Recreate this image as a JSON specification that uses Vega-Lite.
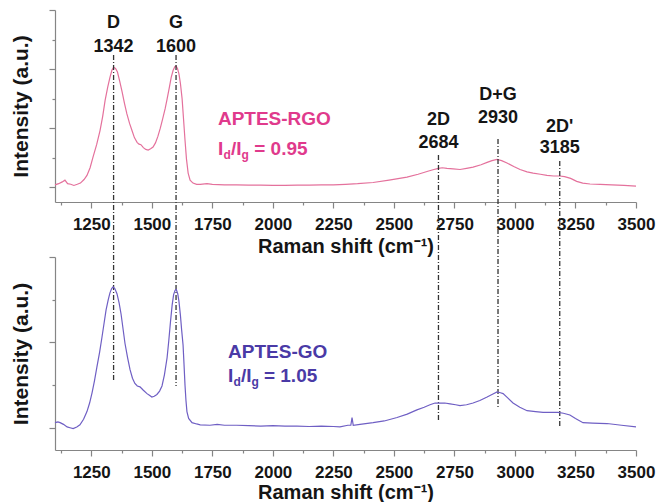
{
  "$schema": "https://vega.github.io/schema/vega-lite/v6.json",
  "width": 581,
  "height": 440,
  "autosize": "none",
  "padding": {"left": 55, "top": 10, "right": 20, "bottom": 52},
  "background": "white",
  "config": {
    "view": {"stroke": null},
    "font": "Liberation Sans",
    "axis": {
      "domainColor": "#858585", "tickColor": "#858585", "domainWidth": 1.2, "tickWidth": 1.2,
      "grid": false, "labelFont": "Liberation Sans", "labelFontWeight": "bold", "labelFontSize": 17,
      "labelColor": "#151515", "titleFont": "Liberation Sans", "titleFontWeight": "bold", "titleColor": "#151515"
    }
  },
  "datasets": {
    "rgo": [
      {"w":1100,"v":0.04},{"w":1115,"v":0.06},{"w":1130,"v":0.09},{"w":1141,"v":0.12},{"w":1152,"v":0.06},{"w":1165,"v":0.05},{"w":1178,"v":0.03},{"w":1192,"v":0.05},{"w":1205,"v":0.07},{"w":1220,"v":0.13},{"w":1232,"v":0.2},{"w":1245,"v":0.33},{"w":1257,"v":0.51},{"w":1272,"v":0.72},{"w":1286,"v":0.96},{"w":1297,"v":1.2},{"w":1307,"v":1.47},{"w":1318,"v":1.7},{"w":1327,"v":1.86},{"w":1335,"v":1.98},{"w":1342,"v":2.03},{"w":1350,"v":2.01},{"w":1358,"v":1.95},{"w":1367,"v":1.8},{"w":1377,"v":1.62},{"w":1387,"v":1.42},{"w":1397,"v":1.24},{"w":1408,"v":1.08},{"w":1418,"v":0.96},{"w":1428,"v":0.84},{"w":1439,"v":0.76},{"w":1447,"v":0.73},{"w":1455,"v":0.72},{"w":1465,"v":0.67},{"w":1475,"v":0.64},{"w":1485,"v":0.63},{"w":1495,"v":0.65},{"w":1505,"v":0.68},{"w":1515,"v":0.75},{"w":1525,"v":0.86},{"w":1535,"v":1.0},{"w":1545,"v":1.16},{"w":1555,"v":1.33},{"w":1563,"v":1.49},{"w":1572,"v":1.68},{"w":1580,"v":1.86},{"w":1588,"v":1.98},{"w":1595,"v":2.04},{"w":1600,"v":2.05},{"w":1606,"v":2.01},{"w":1612,"v":1.92},{"w":1618,"v":1.76},{"w":1625,"v":1.5},{"w":1631,"v":1.15},{"w":1637,"v":0.8},{"w":1643,"v":0.48},{"w":1650,"v":0.24},{"w":1658,"v":0.12},{"w":1670,"v":0.07},{"w":1685,"v":0.05},{"w":1700,"v":0.05},{"w":1728,"v":0.06},{"w":1750,"v":0.05},{"w":1800,"v":0.04},{"w":1850,"v":0.04},{"w":1900,"v":0.035},{"w":1950,"v":0.035},{"w":2000,"v":0.03},{"w":2050,"v":0.03},{"w":2100,"v":0.035},{"w":2150,"v":0.035},{"w":2200,"v":0.04},{"w":2250,"v":0.04},{"w":2300,"v":0.05},{"w":2350,"v":0.06},{"w":2414,"v":0.08},{"w":2480,"v":0.12},{"w":2554,"v":0.17},{"w":2600,"v":0.22},{"w":2640,"v":0.27},{"w":2665,"v":0.3},{"w":2684,"v":0.32},{"w":2700,"v":0.33},{"w":2719,"v":0.32},{"w":2745,"v":0.31},{"w":2773,"v":0.3},{"w":2800,"v":0.32},{"w":2827,"v":0.34},{"w":2860,"v":0.38},{"w":2885,"v":0.42},{"w":2905,"v":0.45},{"w":2926,"v":0.47},{"w":2945,"v":0.45},{"w":2967,"v":0.41},{"w":2995,"v":0.35},{"w":3021,"v":0.3},{"w":3050,"v":0.26},{"w":3075,"v":0.24},{"w":3105,"v":0.22},{"w":3132,"v":0.2},{"w":3160,"v":0.19},{"w":3185,"v":0.19},{"w":3205,"v":0.18},{"w":3230,"v":0.15},{"w":3255,"v":0.1},{"w":3280,"v":0.07},{"w":3310,"v":0.055},{"w":3352,"v":0.05},{"w":3400,"v":0.04},{"w":3450,"v":0.03},{"w":3500,"v":0.02}
    ],
    "go": [
      {"w":1100,"v":0.06},{"w":1112,"v":0.07},{"w":1121,"v":0.06},{"w":1135,"v":0.04},{"w":1150,"v":0.01},{"w":1162,"v":0.0},{"w":1175,"v":-0.01},{"w":1190,"v":0.01},{"w":1203,"v":0.035},{"w":1218,"v":0.1},{"w":1232,"v":0.19},{"w":1243,"v":0.29},{"w":1253,"v":0.41},{"w":1263,"v":0.55},{"w":1273,"v":0.71},{"w":1284,"v":0.88},{"w":1294,"v":1.06},{"w":1303,"v":1.23},{"w":1311,"v":1.38},{"w":1320,"v":1.5},{"w":1327,"v":1.58},{"w":1334,"v":1.63},{"w":1340,"v":1.65},{"w":1347,"v":1.63},{"w":1356,"v":1.57},{"w":1365,"v":1.46},{"w":1373,"v":1.33},{"w":1381,"v":1.16},{"w":1389,"v":0.99},{"w":1400,"v":0.82},{"w":1410,"v":0.68},{"w":1420,"v":0.58},{"w":1430,"v":0.52},{"w":1440,"v":0.49},{"w":1451,"v":0.48},{"w":1465,"v":0.44},{"w":1480,"v":0.4},{"w":1490,"v":0.38},{"w":1500,"v":0.36},{"w":1510,"v":0.37},{"w":1521,"v":0.39},{"w":1532,"v":0.43},{"w":1542,"v":0.49},{"w":1552,"v":0.62},{"w":1563,"v":0.82},{"w":1570,"v":1.02},{"w":1577,"v":1.24},{"w":1584,"v":1.44},{"w":1590,"v":1.56},{"w":1596,"v":1.61},{"w":1601,"v":1.62},{"w":1607,"v":1.57},{"w":1612,"v":1.48},{"w":1618,"v":1.32},{"w":1623,"v":1.15},{"w":1629,"v":0.97},{"w":1633,"v":0.74},{"w":1637,"v":0.5},{"w":1641,"v":0.32},{"w":1645,"v":0.19},{"w":1652,"v":0.11},{"w":1666,"v":0.06},{"w":1685,"v":0.045},{"w":1700,"v":0.035},{"w":1740,"v":0.03},{"w":1770,"v":0.04},{"w":1800,"v":0.03},{"w":1850,"v":0.03},{"w":1900,"v":0.025},{"w":1950,"v":0.02},{"w":2000,"v":0.025},{"w":2050,"v":0.02},{"w":2100,"v":0.02},{"w":2150,"v":0.015},{"w":2200,"v":0.02},{"w":2250,"v":0.015},{"w":2277,"v":0.01},{"w":2310,"v":0.03},{"w":2322,"v":0.03},{"w":2327,"v":0.12},{"w":2332,"v":0.03},{"w":2360,"v":0.04},{"w":2414,"v":0.06},{"w":2460,"v":0.08},{"w":2513,"v":0.12},{"w":2555,"v":0.16},{"w":2595,"v":0.21},{"w":2625,"v":0.24},{"w":2649,"v":0.27},{"w":2670,"v":0.29},{"w":2690,"v":0.29},{"w":2710,"v":0.29},{"w":2732,"v":0.28},{"w":2755,"v":0.27},{"w":2773,"v":0.26},{"w":2800,"v":0.27},{"w":2827,"v":0.29},{"w":2855,"v":0.32},{"w":2885,"v":0.36},{"w":2905,"v":0.39},{"w":2926,"v":0.42},{"w":2940,"v":0.41},{"w":2951,"v":0.4},{"w":2970,"v":0.35},{"w":2992,"v":0.29},{"w":3020,"v":0.24},{"w":3050,"v":0.2},{"w":3085,"v":0.19},{"w":3116,"v":0.18},{"w":3150,"v":0.18},{"w":3178,"v":0.18},{"w":3200,"v":0.17},{"w":3227,"v":0.15},{"w":3250,"v":0.11},{"w":3281,"v":0.06},{"w":3320,"v":0.055},{"w":3380,"v":0.05},{"w":3440,"v":0.03},{"w":3500,"v":0.01}
    ],
    "peaks": [
      {"name":"D","pos":1342,"nameY":2.695,"numY":2.288,"top":2.238,"bottom":-3.297},
      {"name":"G","pos":1600,"nameY":2.695,"numY":2.288,"top":2.238,"bottom":-3.365},
      {"name":"2D","pos":2684,"nameY":1.053,"numY":0.664,"top":0.545,"bottom":-3.973},
      {"name":"D+G","pos":2930,"nameY":1.476,"numY":1.087,"top":0.816,"bottom":-3.72},
      {"name":"2D'","pos":3185,"nameY":0.934,"numY":0.579,"top":0.443,"bottom":-4.075}
    ],
    "rgoMain": [
      {"t":"APTES-RGO","w":1773,"v":1.053},
      {"t":"I","w":1773,"v":0.545},
      {"t":"/I","w":1827,"v":0.545},
      {"t":"= 0.95","w":1923,"v":0.545}
    ],
    "rgoSub": [
      {"t":"d","w":1796,"v":0.477},
      {"t":"g","w":1870,"v":0.477}
    ],
    "goMain": [
      {"t":"APTES-GO","w":1815,"v":0.817},
      {"t":"I","w":1815,"v":0.536},
      {"t":"/I","w":1868,"v":0.536},
      {"t":"= 1.05","w":1963,"v":0.536}
    ],
    "goSub": [
      {"t":"d","w":1837,"v":0.489},
      {"t":"g","w":1912,"v":0.489}
    ]
  },
  "layer": [
    {
      "layer": [
        {
          "data": {"name": "rgo"},
          "mark": {"type": "line", "color": "#e4719c", "strokeWidth": 1.2},
          "encoding": {
            "x": {"field": "w", "type": "quantitative",
              "scale": {"domain": [1100, 3500], "nice": false, "zero": false},
              "axis": {"orient": "bottom", "offset": -248, "tickCount": 40,
                "values": [1125,1250,1375,1500,1625,1750,1875,2000,2125,2250,2375,2500,2625,2750,2875,3000,3125,3250,3375,3500],
                "format": "d", "labelExpr": "datum.value % 250 === 0 ? datum.label : ''",
                "tickSize": {"condition": {"test": "datum.value % 250 === 0", "value": 6}, "value": 3},
                "labelPadding": 8, "labelOverlap": false, "labelFlush": false,
                "title": "Raman shift (cm⁻¹)", "titleFontSize": 20, "titlePadding": 4}},
            "y": {"field": "v", "type": "quantitative",
              "scale": {"domain": [-0.25, 3], "range": [192, 0], "nice": false, "zero": false},
              "axis": {"orient": "left", "tickCount": 40, "values": [0, 0.5, 1, 1.5, 2, 2.5, 3], "labels": false,
                "tickSize": {"condition": {"test": "datum.value % 1 === 0", "value": 6}, "value": 3},
                "title": "Intensity (a.u.)", "titleFontSize": 21, "titlePadding": 17}}
          }
        },
        {
          "data": {"name": "peaks"},
          "mark": {"type": "rule", "clip": false, "color": "#333333", "strokeWidth": 1.3, "strokeDash": [5, 2, 1, 2]},
          "encoding": {
            "x": {"field": "pos", "type": "quantitative", "scale": {"domain": [1100, 3500], "nice": false, "zero": false}},
            "y": {"field": "top", "type": "quantitative", "scale": {"domain": [-0.25, 3], "range": [192, 0], "nice": false, "zero": false}},
            "y2": {"field": "bottom"}
          }
        },
        {
          "data": {"name": "peaks"},
          "mark": {"type": "text", "clip": false, "align": "center", "baseline": "alphabetic", "fontSize": 18, "fontWeight": "bold", "color": "#151515"},
          "encoding": {
            "x": {"field": "pos", "type": "quantitative", "scale": {"domain": [1100, 3500], "nice": false, "zero": false}},
            "y": {"field": "nameY", "type": "quantitative", "scale": {"domain": [-0.25, 3], "range": [192, 0], "nice": false, "zero": false}},
            "text": {"field": "name"}
          }
        },
        {
          "data": {"name": "peaks"},
          "mark": {"type": "text", "clip": false, "align": "center", "baseline": "alphabetic", "fontSize": 18, "fontWeight": "bold", "color": "#151515"},
          "encoding": {
            "x": {"field": "pos", "type": "quantitative", "scale": {"domain": [1100, 3500], "nice": false, "zero": false}},
            "y": {"field": "numY", "type": "quantitative", "scale": {"domain": [-0.25, 3], "range": [192, 0], "nice": false, "zero": false}},
            "text": {"field": "pos", "type": "nominal"}
          }
        },
        {
          "data": {"name": "rgoMain"},
          "mark": {"type": "text", "align": "left", "baseline": "alphabetic", "fontSize": 19, "fontWeight": "bold", "color": "#e03a8c"},
          "encoding": {
            "x": {"field": "w", "type": "quantitative", "scale": {"domain": [1100, 3500], "nice": false, "zero": false}},
            "y": {"field": "v", "type": "quantitative", "scale": {"domain": [-0.25, 3], "range": [192, 0], "nice": false, "zero": false}},
            "text": {"field": "t"}
          }
        },
        {
          "data": {"name": "rgoSub"},
          "mark": {"type": "text", "align": "left", "baseline": "alphabetic", "fontSize": 12, "fontWeight": "bold", "color": "#e03a8c"},
          "encoding": {
            "x": {"field": "w", "type": "quantitative", "scale": {"domain": [1100, 3500], "nice": false, "zero": false}},
            "y": {"field": "v", "type": "quantitative", "scale": {"domain": [-0.25, 3], "range": [192, 0], "nice": false, "zero": false}},
            "text": {"field": "t"}
          }
        }
      ]
    },
    {
      "layer": [
        {
          "data": {"name": "go"},
          "mark": {"type": "line", "color": "#6f5fc4", "strokeWidth": 1.2},
          "encoding": {
            "x": {"field": "w", "type": "quantitative",
              "scale": {"domain": [1100, 3500], "nice": false, "zero": false},
              "axis": {"orient": "bottom", "tickCount": 40,
                "values": [1125,1250,1375,1500,1625,1750,1875,2000,2125,2250,2375,2500,2625,2750,2875,3000,3125,3250,3375,3500],
                "format": "d", "labelExpr": "datum.value % 250 === 0 ? datum.label : ''",
                "tickSize": {"condition": {"test": "datum.value % 250 === 0", "value": 6}, "value": 3},
                "labelPadding": 8, "labelOverlap": false, "labelFlush": false,
                "title": "Raman shift (cm⁻¹)", "titleFontSize": 20, "titlePadding": 2}},
            "y": {"field": "v", "type": "quantitative",
              "scale": {"domain": [-0.26, 2], "range": [440, 247], "nice": false, "zero": false},
              "axis": {"orient": "left", "tickCount": 40, "values": [0, 0.5, 1, 1.5, 2], "labels": false,
                "tickSize": {"condition": {"test": "datum.value % 1 === 0", "value": 6}, "value": 3},
                "title": "Intensity (a.u.)", "titleFontSize": 21, "titlePadding": 17}}
          }
        },
        {
          "data": {"name": "goMain"},
          "mark": {"type": "text", "align": "left", "baseline": "alphabetic", "fontSize": 19, "fontWeight": "bold", "color": "#4a3aa6"},
          "encoding": {
            "x": {"field": "w", "type": "quantitative", "scale": {"domain": [1100, 3500], "nice": false, "zero": false}},
            "y": {"field": "v", "type": "quantitative", "scale": {"domain": [-0.26, 2], "range": [440, 247], "nice": false, "zero": false}},
            "text": {"field": "t"}
          }
        },
        {
          "data": {"name": "goSub"},
          "mark": {"type": "text", "align": "left", "baseline": "alphabetic", "fontSize": 12, "fontWeight": "bold", "color": "#4a3aa6"},
          "encoding": {
            "x": {"field": "w", "type": "quantitative", "scale": {"domain": [1100, 3500], "nice": false, "zero": false}},
            "y": {"field": "v", "type": "quantitative", "scale": {"domain": [-0.26, 2], "range": [440, 247], "nice": false, "zero": false}},
            "text": {"field": "t"}
          }
        }
      ]
    }
  ],
  "resolve": {"scale": {"y": "independent"}, "axis": {"x": "independent", "y": "independent"}}
}
